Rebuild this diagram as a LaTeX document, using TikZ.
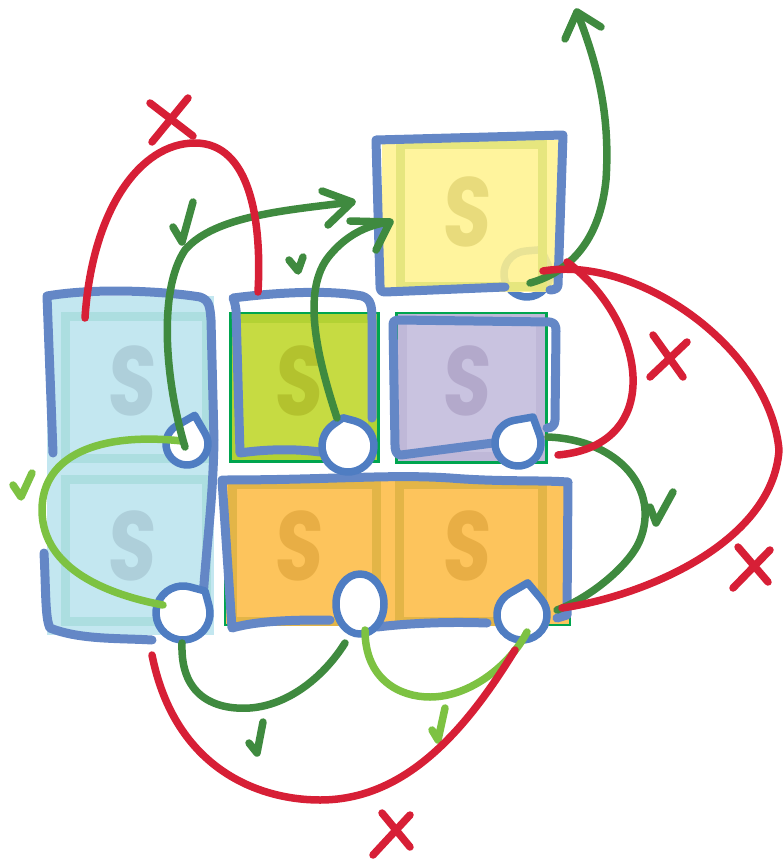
\documentclass[tikz,border=0pt]{standalone}
\usepackage{fontspec}
\newfontfamily\sfont{Poppins}[FakeSlant=0.08]
\usetikzlibrary{calc}
\definecolor{bOut}{HTML}{6487C6}
\definecolor{bPort}{HTML}{4F7DC2}
\definecolor{cRed}{HTML}{D71F36}
\definecolor{cDk}{HTML}{3F8A3F}
\definecolor{cLt}{HTML}{7DC242}
\definecolor{grB}{HTML}{00A54F}
\definecolor{lbF}{HTML}{C3E7F0}
\definecolor{lbB}{HTML}{ACDEE0}
\definecolor{lbS}{HTML}{AECFDA}
\definecolor{gF}{HTML}{C6DB42}
\definecolor{gB}{HTML}{B3D234}
\definecolor{gS}{HTML}{B3C22E}
\definecolor{pF}{HTML}{C9C3E0}
\definecolor{pB}{HTML}{BFB8D8}
\definecolor{pS}{HTML}{B3A9CB}
\definecolor{yF}{HTML}{FFF28F}
\definecolor{yB}{HTML}{E6E67E}
\definecolor{yS}{HTML}{E8DB7C}
\definecolor{oF}{HTML}{FDC45C}
\definecolor{oB}{HTML}{E3B547}
\definecolor{oS}{HTML}{E8AE45}
\newcommand\tdrop[5]{%
  \coordinate (#1) at #2;
  \draw[port] ($(#1)+(#4+#5:#3)$) arc[start angle={#4+#5}, end angle={#4+360-#5}, radius=#3] -- ($(#1)+(#4:{#3/cos(#5)})$) -- cycle;}
\newcommand\bigS{\scalebox{0.8}[1]{S}}
\begin{document}
\begin{tikzpicture}[x=1pt,y=-1pt,
  outl/.style={draw=bOut, line width=9pt, line cap=round, line join=round},
  port/.style={draw=bPort, fill=white, line width=7.5pt, line join=round},
  nogo/.style={draw=cRed, line width=7.5pt, line cap=round, line join=round},
  okdk/.style={draw=cDk, line width=7.5pt, line cap=round, line join=round},
  oklt/.style={draw=cLt, line width=7.5pt, line cap=round, line join=round},
  band/.style={line width=9pt},
  letter/.style={font=\sfont\bfseries\fontsize{98}{98}\selectfont, inner sep=0pt}]
\useasboundingbox (0,0) rectangle (782,862);
% yellow port (under the tile)
\tdrop{pY}{(527,274)}{23}{-60}{35}
% tile fills
\fill[lbF] (47,296) rectangle (214,635);
\draw[lbB,band] (65.5,316.5) rectangle (206,458);
\draw[lbB,band] (65.5,479.5) rectangle (206,621);
\draw[fill=gF,draw=grB,line width=3pt] (230,313) rectangle (378,461);
\draw[gB,band] (236,318) rectangle (372,455);
\draw[fill=pF,draw=grB,line width=3pt] (396,313) rectangle (546,462);
\draw[pB,band] (402,318) rectangle (540,456);
\fill[yF,opacity=0.88] (382,140) rectangle (560,292);
\draw[yB,band] (400,144.5) rectangle (542,286);
\draw[fill=oF,draw=grB,line width=2.5pt] (225,480) rectangle (570,625);
\draw[oB,band] (232.5,484) rectangle (376,621);
\draw[oB,band] (399,484) rectangle (542.5,621);
% letters
\node[letter,text=lbS] (tLB1) at (131,381) {\bigS};
\node[letter,text=lbS] (tLB2) at (131,546) {\bigS};
\node[letter,text=gS] (tG) at (298,381) {\bigS};
\node[letter,text=pS] (tP) at (466,381) {\bigS};
\node[letter,text=yS] (tY) at (466,212) {\bigS};
\node[letter,text=oS] (tO1) at (298,546) {\bigS};
\node[letter,text=oS] (tO2) at (466,546) {\bigS};
% hand drawn outlines
\draw[outl] (53,453) -- (47,296) .. controls (100,287) and (170,292) .. (200,297) .. controls (209,300) and (210,306) .. (211,320) -- (214,440) .. controls (213,500) and (207,540) .. (203,598);
\draw[outl] (44,553) .. controls (46,590) and (45,618) .. (50,628) .. controls (80,640) and (120,638) .. (152,640);
\draw[outl] (320,452) .. controls (290,448) and (260,450) .. (240,453) -- (236,310) .. controls (235,303) and (234,300) .. (233,298) .. controls (280,292) and (330,290) .. (362,296) .. controls (371,299) and (372,306) .. (372,320) -- (372,418);
\draw[outl] (493,443) -- (401,455) .. controls (396,455) and (395,450) .. (395,445) -- (393,325) .. controls (393,321) and (395,320) .. (398,320) -- (550,322) .. controls (555,323) and (556,326) .. (556,331) -- (555,420) .. controls (555,425) and (552,428) .. (547,428);
\draw[outl] (505,287) -- (385,292) .. controls (381,292) and (380,290) .. (380,285) -- (376,140) -- (563,135) -- (558,285) .. controls (558,288) and (555,290) .. (550,290);
\draw[outl] (330,620) .. controls (300,620) and (260,620) .. (232,628) -- (222,480) .. controls (330,480) and (390,474) .. (450,478) .. controls (500,482) and (540,480) .. (568,482) -- (567,615) -- (557,618);
\draw[outl] (377,627) .. controls (420,622) and (460,622) .. (487,623);
% ports
\tdrop{pLB1}{(187,444)}{21}{-75}{45}
\tdrop{pLB2}{(183,613)}{27}{-45}{30}
\tdrop{pG}{(348,446)}{26}{-100}{25}
\tdrop{pP}{(518,443)}{23}{-60}{40}
\coordinate (pOm) at (360,604);
\draw[port] (pOm) ellipse[x radius=24, y radius=30];
\tdrop{pOr}{(522,615)}{25}{-80}{40}
% connector end points
\coordinate (eG1a) at (185,447);
\coordinate (eG1b) at (352,202);
\coordinate (eG2a) at (337,418);
\coordinate (eG2b) at (390,222);
\coordinate (eG3a) at (530,283);
\coordinate (eG3b) at (577,12);
\coordinate (eG4a) at (548,437);
\coordinate (eG4b) at (557,610);
\coordinate (eG5a) at (182,643);
\coordinate (eG5b) at (345,643);
\coordinate (eL1a) at (182,441);
\coordinate (eL1b) at (163,605);
\coordinate (eL2a) at (365,630);
\coordinate (eL2b) at (527,632);
\coordinate (eR1a) at (85,318);
\coordinate (eR1b) at (258,292);
\coordinate (eR2a) at (558,455);
\coordinate (eR2b) at (567,262);
\coordinate (eR3a) at (543,271);
\coordinate (eR3b) at (562,608);
\coordinate (eR4a) at (152,655);
\coordinate (eR4b) at (515,650);
% light green connectors
\draw[oklt] (eL1a) .. controls (100,432) and (42,455) .. (42,510) .. controls (42,570) and (110,595) .. (eL1b);
\draw[oklt] (eL2a) .. controls (365,680) and (400,697) .. (430,697) .. controls (470,697) and (510,665) .. (eL2b);
\draw[oklt] (13,485) -- (21,497) -- (32,473);
\draw[oklt] (432,730) -- (438,740) -- (445,708);
% dark green connectors
\draw[okdk] (eG1a) .. controls (165,380) and (158,290) .. (185,250) .. controls (215,215) and (290,210) .. (eG1b);
\draw[okdk] (322,191) -- (eG1b) -- (328,225);
\draw[okdk] (eG2a) .. controls (318,360) and (300,290) .. (330,255) .. controls (345,237) and (365,225) .. (eG2b);
\draw[okdk] (350,221) -- (eG2b) -- (376,250);
\draw[okdk] (eG3a) .. controls (570,272) and (600,240) .. (606,180) .. controls (610,120) and (600,70) .. (eG3b);
\draw[okdk] (565,39) -- (eG3b) -- (601,27);
\draw[okdk] (eG4a) .. controls (620,440) and (660,490) .. (640,540) .. controls (630,565) and (590,598) .. (eG4b);
\draw[okdk] (eG5a) .. controls (180,700) and (220,710) .. (250,708) .. controls (290,705) and (325,675) .. (eG5b);
\draw[okdk] (173,227) -- (182,242) -- (193,202);
\draw[okdk] (289,260) -- (298,271) -- (303,257);
\draw[okdk] (650,507) -- (656,523) -- (673,492);
\draw[okdk] (249,743) -- (257,753) -- (263,722);
% red connectors
\draw[nogo] (eR1a) .. controls (92,210) and (140,143) .. (195,143) .. controls (250,143) and (262,220) .. (eR1b);
\draw[nogo] (eR2a) .. controls (668,445) and (645,320) .. (eR2b);
\draw[nogo] (eR3a) .. controls (640,255) and (770,350) .. (779,450) .. controls (773,540) and (650,595) .. (eR3b);
\draw[nogo] (eR4a) .. controls (175,770) and (260,800) .. (320,800) .. controls (400,800) and (460,740) .. (eR4b);
\draw[nogo] (150,103) -- (193,136); \draw[nogo] (188,98) -- (152,142);
\draw[nogo] (653,335) -- (683,377); \draw[nogo] (687,342) -- (650,377);
\draw[nogo] (738,547) -- (768,582); \draw[nogo] (770,550) -- (733,588);
\draw[nogo] (382,813) -- (410,847); \draw[nogo] (410,815) -- (373,855);
\end{tikzpicture}
\end{document}
